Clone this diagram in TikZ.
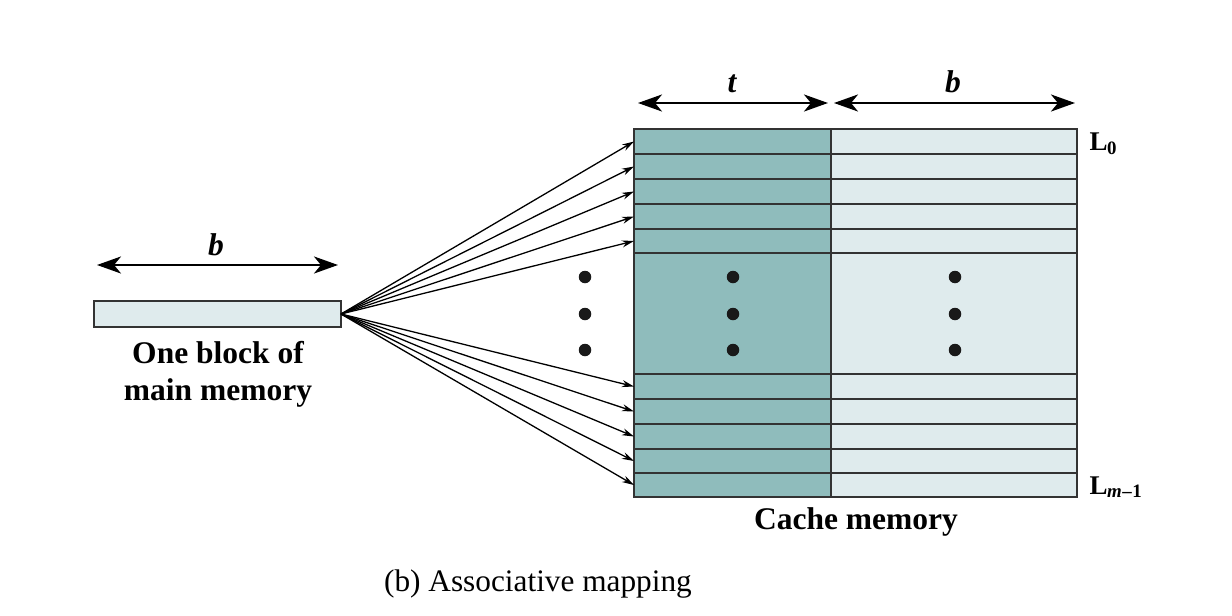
\documentclass[tikz,border=0pt]{standalone}
\usepackage{fontspec}
\setmainfont{Liberation Serif}
\usetikzlibrary{arrows.meta}
\definecolor{tagc}{HTML}{8FBCBC}
\definecolor{datac}{HTML}{DFEBED}
\definecolor{linec}{HTML}{333333}
\begin{document}
\begin{tikzpicture}[x=1pt,y=-1pt,
  cell/.style={draw=linec, line width=1.5pt, inner sep=0pt, outer sep=0pt, anchor=north west},
  tagcell/.style={cell, fill=tagc, minimum width=197pt},
  datacell/.style={cell, fill=datac, minimum width=246pt},
  dimarrow/.style={line width=2.8pt, {Stealth[length=24pt,width=17pt,inset=7pt]}-{Stealth[length=24pt,width=17pt,inset=7pt]}},
  fan/.style={line width=1.3pt, -{Stealth[length=12pt,width=7pt]}},
  dot/.style={circle, fill=black!90, inner sep=0pt, minimum size=12.5pt},
  lbl/.style={font=\fontsize{31.5}{37}\selectfont\bfseries, anchor=base},
  lnl/.style={font=\fontsize{27}{32}\selectfont\bfseries, anchor=base west},
  caption/.style={font=\fontsize{31.3}{37}\selectfont, anchor=base}
]
\useasboundingbox (0,0) rectangle (1232,616);

% main memory block
\node[cell, fill=datac, minimum width=247pt, minimum height=26pt] (blk) at (94,301) {};
\coordinate (bl) at (97,265);
\coordinate (br) at (338,265);
\draw[dimarrow] (bl) -- (br);
\node[lbl] (lb) at (216,255) {\itshape b};
\node[lbl] (m1) at (218,363) {One block of};
\node[lbl] (m2) at (218,400) {main memory};

% cache rows (top group)
\foreach \i/\y/\h in {1/129/25,2/154/25,3/179/25,4/204/25,5/229/24}{
  \node[tagcell, minimum height=\h pt] (t\i) at (634,\y) {};
  \node[datacell, minimum height=\h pt] (d\i) at (831,\y) {};
}
% middle region
\node[tagcell, minimum height=121pt] (tm) at (634,253) {};
\node[datacell, minimum height=121pt] (dm) at (831,253) {};
% bottom group
\foreach \i/\y/\h in {6/374/25,7/399/25,8/424/25,9/449/24,10/473/24}{
  \node[tagcell, minimum height=\h pt] (t\i) at (634,\y) {};
  \node[datacell, minimum height=\h pt] (d\i) at (831,\y) {};
}

% dots
\foreach \c/\x in {a/585,b/733,c/955}{
  \foreach \j/\y in {1/277,2/314,3/350}{
    \node[dot] (dot\c\j) at (\x,\y) {};
  }
}

% fan arrows
\foreach \i in {1,...,10}{
  \draw[fan] (blk.east) -- (t\i.west);
}

% top dimension arrows
\coordinate (tl) at (638,103);
\coordinate (tr) at (828,103);
\coordinate (bl2) at (834,103);
\coordinate (br2) at (1075,103);
\draw[dimarrow] (tl) -- (tr);
\draw[dimarrow] (bl2) -- (br2);
\node[lbl] (lt) at (732,92) {\itshape t};
\node[lbl] (lb2) at (953,92) {\itshape b};

% line labels
\node[lnl] (l0) at (1086,150) {L\kern-0.5pt\textsubscript{0}};
\node[lnl] (lm) at (1086,494) {L\kern-0.5pt\textsubscript{\textit{m}\kern0.5pt\textbf{–}\kern0.5pt1}};

\node[lbl] (cm) at (856,529) {Cache memory};
\node[caption] (cap) at (538,591) {(b) Associative mapping};
\end{tikzpicture}
\end{document}
